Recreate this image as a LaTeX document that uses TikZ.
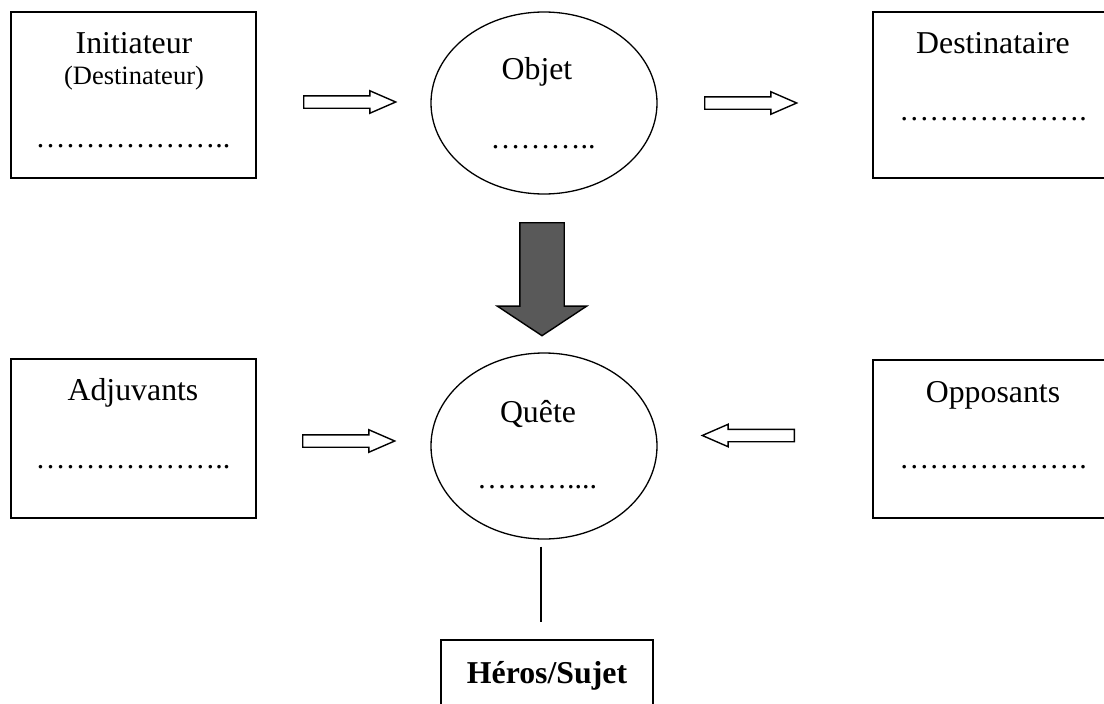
\documentclass[tikz,border=0pt]{standalone}
\usepackage{fontspec}
\setmainfont{Liberation Serif}
\usetikzlibrary{shapes.geometric,shapes.arrows,positioning}

\newcommand\trois{\textellipsis\textellipsis\textellipsis}

\tikzset{
  box/.style={draw, line width=1.6pt, inner sep=0pt},
  bulle/.style={draw, ellipse, line width=1.3pt, minimum width=226pt, inner sep=0pt},
  titre/.style={anchor=base, inner sep=0pt, font=\fontsize{31.8}{38}\selectfont},
  petit/.style={anchor=base, inner sep=0pt, font=\fontsize{26.5}{32}\selectfont},
  pts/.style={anchor=base, inner sep=0pt, font=\fontsize{30}{36}\selectfont},
  fleche/.style={draw, fill=white, single arrow, anchor=tail, line width=1.4pt, inner sep=5.5pt,
    single arrow head extend=5pt, single arrow tip angle=47, minimum height=92pt},
  grossefleche/.style={draw, fill=black!65, single arrow, anchor=tail, line width=1.4pt, inner sep=21.5pt,
    single arrow head extend=22.5pt, single arrow tip angle=113, minimum height=113pt,
    shape border rotate=270}
}

\begin{document}
\begin{tikzpicture}[x=1pt,y=-1pt,line join=miter]
  \useasboundingbox (0,0) rectangle (1104,704);
  \clip (0,0) rectangle (1104,704);
%%
  % Node: initiateur
  \node[box, minimum width=245pt, minimum height=166pt] (initiateur) at (133.5,95) {};
  \node[titre] (initiateur-titre) at (134,53) {Initiateur};
  \node[petit] (initiateur-sous) at (134,84) {(Destinateur)};
  \node[pts] (initiateur-pts) at (133,147) {\trois\trois..};
  % Node: objet
  \node[bulle, minimum height=182pt] (objet) at (544,103) {};
  \node[titre] (objet-titre) at (537,79) {Objet};
  \node[pts] (objet-pts) at (543,148) {\trois..};
  % Node: destinataire
  \node[box, minimum width=237pt, minimum height=166pt] (destinataire) at (991.5,95) {};
  \node[titre] (destinataire-titre) at (993,53) {Destinataire};
  \node[pts] (destinataire-pts) at (993,120) {\trois\trois.};
  % Node: adjuvants
  \node[box, minimum width=245pt, minimum height=159pt] (adjuvants) at (133.5,438.5) {};
  \node[titre] (adjuvants-titre) at (133,400) {Adjuvants};
  \node[pts] (adjuvants-pts) at (133,468) {\trois\trois..};
  % Node: quete
  \node[bulle, minimum height=186pt] (quete) at (544,446) {};
  \node[titre] (quete-titre) at (538,422) {Quête};
  \node[pts] (quete-pts) at (537,488) {\trois....};
  % Node: opposants
  \node[box, minimum width=237pt, minimum height=158pt] (opposants) at (991.5,439) {};
  \node[titre] (opposants-titre) at (993,402) {Opposants};
  \node[pts] (opposants-pts) at (993,468) {\trois\trois.};
  % Node: heros
  \node[box, minimum width=212pt, minimum height=70pt] (heros) at (547,675) {};
  \node[titre, font=\fontsize{31.8}{38}\selectfont\bfseries] (heros-titre) at (547,683) {Héros/Sujet};
%%
  % Edge: initiateur -> objet
  \node[fleche] (fleche-io) at (303,102) {};
  % Edge: objet -> destinataire
  \node[fleche] (fleche-od) at (704,103) {};
  % Edge: objet -> quete
  \node[grossefleche] (fleche-oq) at (542,222) {};
  % Edge: adjuvants -> quete
  \node[fleche] (fleche-aq) at (302,441) {};
  % Edge: opposants -> quete
  \node[fleche, shape border rotate=180] (fleche-pq) at (795,435.5) {};
  % Edge: quete -- heros
  \draw[line width=1.2pt] ([xshift=-3pt,yshift=-7pt]quete.south) -- ([xshift=-3pt,yshift=17pt]quete.south |- heros.north);
%
\end{tikzpicture}
\end{document}
